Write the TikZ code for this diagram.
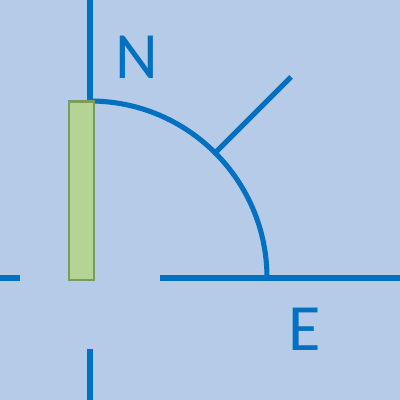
\documentclass[tikz,border=0pt]{standalone}
\usepackage{fontspec}
\setmainfont{Carlito}
\usetikzlibrary{positioning,calc}
\definecolor{bgblue}{HTML}{B6CBE8}
\definecolor{lineblue}{HTML}{0070C0}
\definecolor{barfill}{HTML}{B6D396}
\definecolor{barline}{HTML}{7A9E5A}
\begin{document}
\begin{tikzpicture}[
    x=0.025cm, y=-0.025cm,
    axis/.style={draw=lineblue, line width=3.6pt},
    lbl/.style={text=lineblue, font=\fontsize{47}{47}\selectfont, inner sep=0pt},
    bar/.style={draw=barline, fill=barfill, line width=1.6pt}
]
    % background
    \fill[bgblue] (0,0) rectangle (400,400);
    \useasboundingbox (0,0) rectangle (400,400);

    % axis pieces
    \coordinate (ctr) at (90,278);
    \coordinate (ntop) at (90,0);
    \coordinate (nbot) at (90,101);
    \coordinate (sbot) at (90,400);
    \coordinate (stop) at (90,349);
    \coordinate (wl) at (0,278);
    \coordinate (wr) at (20,278);
    \coordinate (el) at (160,278);
    \coordinate (er) at (400,278);
    \draw[axis] (ntop) -- (nbot);
    \draw[axis] (stop) -- (sbot);
    \draw[axis] (wl) -- (wr);
    \draw[axis] (el) -- (er);

    % quarter arc and its radial tick
    \draw[axis] (nbot) arc[start angle=-90, end angle=0, radius=177];
    \coordinate (tin) at ($(ctr)+(-45:177)$);
    \coordinate (tout) at (291,77);
    \draw[axis] (tin) -- (tout);

    % green bar
    \node[bar, minimum width=0.63cm, minimum height=4.45cm, inner sep=0pt, anchor=north west] (gbar) at (67.5,100.5) {};

    % labels
    \node[lbl] (nlbl) at (137,57) {N};
    \node[lbl] (elbl) at (305,329) {E};
\end{tikzpicture}
\end{document}
